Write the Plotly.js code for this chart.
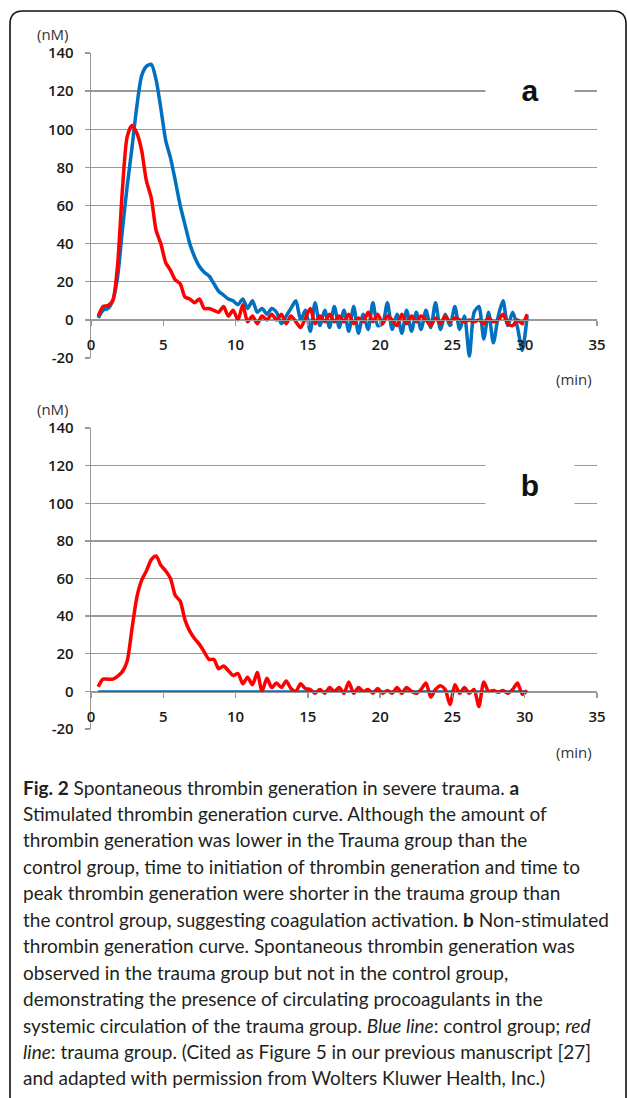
<!DOCTYPE html>
<html>
<head>
<meta charset="utf-8">
<script src="https://cdn.plot.ly/plotly-3.0.1.min.js"></script>
<style>
html,body{margin:0;padding:0;background:#fff;}
#chart{width:627px;height:1098px;}
</style>
</head>
<body>
<div id="chart"></div>
<script>
// ---- data ----
var timeMin = [0.5, 0.83, 1.17, 1.5, 1.83, 2.17, 2.5, 2.83, 3.17, 3.5, 3.83, 4.17, 4.5, 4.83, 5.17, 5.5, 5.83, 6.17, 6.5, 6.83,
  7.17, 7.5, 7.83, 8.17, 8.5, 8.83, 9.17, 9.5, 9.83, 10.17, 10.5, 10.83, 11.17, 11.5, 11.83, 12.17, 12.5, 12.83, 13.17, 13.5,
  13.83, 14.17, 14.5, 14.83, 15.17, 15.5, 15.83, 16.17, 16.5, 16.83, 17.17, 17.5, 17.83, 18.17, 18.5, 18.83, 19.17, 19.5, 19.83, 20.17,
  20.5, 20.83, 21.17, 21.5, 21.83, 22.17, 22.5, 22.83, 23.17, 23.5, 23.83, 24.17, 24.5, 24.83, 25.17, 25.5, 25.83, 26.17, 26.5, 26.83,
  27.17, 27.5, 27.83, 28.17, 28.5, 28.83, 29.17, 29.5, 29.83, 30.17];

// panel a: stimulated
var controlA = [1, 5, 6, 10, 22, 47, 70, 90, 112, 128, 133, 134, 126, 111, 94, 85, 73, 60, 50, 40,
  33, 28, 25, 23, 19, 15, 13, 11, 10, 8, 11, 6, 10, 4, 6, 3, 6, 4, -2, 2,
  6, 10, 0, 5, -6, 9, -3, 5, -4, 7, -4, 5, -6, 7, -7, 3, -5, 9, -3, -2,
  9, -5, 3, -7, 5, -6, 4, -5, 5, -4, 9, -5, 3, -3, 7, -5, 2, -19, 4, 7,
  -10, 4, -12, 2, 10, -3, 4, -4, -16, 2];
var traumaA = [2, 7, 7.5, 10, 28, 68, 96, 102, 98, 89, 73, 64, 47, 40, 30, 26, 21, 19, 12, 11,
  9, 11, 6, 6, 5, 4, 7, 2, 5, 0, 8, -1, 2, -2, 2, 0, 3, 0, 3, -2,
  2, -1, -4, 1, 6, -2, 2, -1, 3, -1, 2, -1, 3, -2, 1, -1, 4, -1, 3, -2,
  2, 0, -3, 3, -2, 2, -1, 2, 0, -3, 1, -2, 2, -1, 1, 0, -1, 0, -1, 0,
  -2, 1, -1, 0, 3, -2, -3, 0, -2, 3];

// panel b: non-stimulated
var traumaB = [2.5, 6.5, 6.5, 6.5, 8, 10.5, 16, 33, 50, 59, 64, 70, 72, 67, 64, 60, 51, 48, 38, 32,
  28, 25, 21, 17, 17, 12, 13.5, 11, 8.5, 9.5, 4, 7.5, 3.5, 10, 0, 7, 2, 4.5, 2, 5.5,
  1.5, 0, 4, 1.5, 1, -1, 1, -1, 2, 0, 2, -1, 5, -1, 2, 0, 1, -1, 1.5, -1,
  0.5, -1, 2, -1, 2, 0, -1, 1, 4.5, -3, 1, 3, 1, -7, 3.5, -1, 2, -1, 1, -8,
  5, 0, 0.5, -0.5, 0.5, -1, 1, 4.5, -1.5, 0.5];
var controlBTime = [0.5, 30.17];
var controlB = [0, 0];

var yTicks = [-20, 0, 20, 40, 60, 80, 100, 120, 140];
var xTicks = [0, 5, 10, 15, 20, 25, 30, 35];

var captionLines = [
  "<b>Fig. 2</b> Spontaneous thrombin generation in severe trauma. <b>a</b>",
  "Stimulated thrombin generation curve. Although the amount of",
  "thrombin generation was lower in the Trauma group than the",
  "control group, time to initiation of thrombin generation and time to",
  "peak thrombin generation were shorter in the trauma group than",
  "the control group, suggesting coagulation activation. <b>b</b> Non-stimulated",
  "thrombin generation curve. Spontaneous thrombin generation was",
  "observed in the trauma group but not in the control group,",
  "demonstrating the presence of circulating procoagulants in the",
  "systemic circulation of the trauma group. <i>Blue line</i>: control group; <i>red</i>",
  "<i>line</i>: trauma group. (Cited as Figure 5 in our previous manuscript [27]",
  "and adapted with permission from Wolters Kluwer Health, Inc.)"
];

// ---- layout helpers (page pixels -> paper fractions) ----
var W = 627, H = 1098;
function fx(p){ return p / W; }
function fy(p){ return 1 - p / H; }

var BLUE = '#0070c0', RED = '#ff0000', GRID = '#999999';
var tickFont = {family: 'Open Sans, sans-serif', size: 15, color: '#1a1a1a', weight: 600};
var textFont = {family: 'Open Sans, sans-serif', size: 15, color: '#333'};

function yaxisDef(top, bottom){
  return {
    domain: [fy(bottom), fy(top)], range: [-20, 140], tickvals: yTicks, ticktext: yTicks.map(String),
    showgrid: true, gridcolor: GRID, gridwidth: 1.3, zeroline: false,
    showline: true, linecolor: GRID, linewidth: 1.3,
    ticks: 'outside', ticklen: 5, tickcolor: GRID, tickwidth: 1.3,
    ticklabelstandoff: 8, tickfont: tickFont, fixedrange: true
  };
}
function xaxisDef(zeroPx){
  return {
    domain: [fx(91), fx(597)], range: [0, 35], tickvals: xTicks, ticktext: xTicks.map(String),
    anchor: 'free', position: fy(zeroPx),
    showgrid: false, zeroline: false, showline: true, linecolor: GRID, linewidth: 1.3,
    ticks: 'outside', ticklen: 5, tickcolor: GRID, tickwidth: 1.3,
    ticklabelstandoff: 6, tickfont: tickFont, fixedrange: true
  };
}

var traces = [
  {x: timeMin, y: controlA, xaxis: 'x', yaxis: 'y', mode: 'lines',
   line: {color: BLUE, width: 3.5, shape: 'spline', smoothing: 0.7}, hoverinfo: 'skip'},
  {x: timeMin, y: traumaA, xaxis: 'x', yaxis: 'y', mode: 'lines',
   line: {color: RED, width: 3.5, shape: 'spline', smoothing: 0.7}, hoverinfo: 'skip'},
  {x: controlBTime, y: controlB, xaxis: 'x2', yaxis: 'y2', mode: 'lines',
   line: {color: BLUE, width: 2.2}, hoverinfo: 'skip'},
  {x: timeMin, y: traumaB, xaxis: 'x2', yaxis: 'y2', mode: 'lines',
   line: {color: RED, width: 3.5, shape: 'spline', smoothing: 0.7}, hoverinfo: 'skip'}
];

var ann = [
  {xref: 'paper', yref: 'paper', x: fx(53), y: fy(34), text: '(nM)', showarrow: false, font: textFont, xanchor: 'center', yanchor: 'middle'},
  {xref: 'paper', yref: 'paper', x: fx(53), y: fy(409), text: '(nM)', showarrow: false, font: textFont, xanchor: 'center', yanchor: 'middle'},
  {xref: 'paper', yref: 'paper', x: fx(574), y: fy(379), text: '(min)', showarrow: false, font: textFont, xanchor: 'center', yanchor: 'middle'},
  {xref: 'paper', yref: 'paper', x: fx(574), y: fy(752), text: '(min)', showarrow: false, font: textFont, xanchor: 'center', yanchor: 'middle'},
  {xref: 'paper', yref: 'paper', x: fx(530), y: fy(90), text: '<b>a</b>', showarrow: false,
   font: {family: 'Liberation Sans, Arial, sans-serif', size: 30, color: '#111'},
   bgcolor: '#ffffff', width: 86, height: 44, xanchor: 'center', yanchor: 'middle'},
  {xref: 'paper', yref: 'paper', x: fx(530), y: fy(485), text: '<b>b</b>', showarrow: false,
   font: {family: 'Liberation Sans, Arial, sans-serif', size: 30, color: '#111'},
   bgcolor: '#ffffff', width: 86, height: 46, xanchor: 'center', yanchor: 'middle'}
];
for (var i = 0; i < captionLines.length; i++) {
  ann.push({xref: 'paper', yref: 'paper', x: fx(21), y: fy(787 + i * 26.45), text: captionLines[i],
    showarrow: false, xanchor: 'left', yanchor: 'middle', align: 'left',
    font: {family: 'Lato, sans-serif', size: 19, color: '#231f20'}});
}

var borderPath = 'M ' + fx(626) + ' ' + fy(1100) + ' L ' + fx(626) + ' ' + fy(24) +
  ' Q ' + fx(626) + ' ' + fy(11) + ' ' + fx(613) + ' ' + fy(11) +
  ' L ' + fx(23) + ' ' + fy(11) +
  ' Q ' + fx(10) + ' ' + fy(11) + ' ' + fx(10) + ' ' + fy(24) +
  ' L ' + fx(10) + ' ' + fy(1100);

var layout = {
  width: W, height: H, margin: {l: 0, r: 0, t: 0, b: 0},
  paper_bgcolor: '#fff', plot_bgcolor: 'rgba(0,0,0,0)', showlegend: false,
  xaxis: xaxisDef(320), yaxis: yaxisDef(53, 358),
  xaxis2: xaxisDef(692), yaxis2: yaxisDef(428, 729),
  annotations: ann,
  shapes: [{type: 'path', xref: 'paper', yref: 'paper', path: borderPath,
    line: {color: '#111', width: 1.6}, fillcolor: 'rgba(0,0,0,0)'}]
};
layout.yaxis.anchor = 'x';
layout.yaxis2.anchor = 'x2';

Plotly.newPlot('chart', traces, layout, {staticPlot: true, displayModeBar: false});
</script>
</body>
</html>
